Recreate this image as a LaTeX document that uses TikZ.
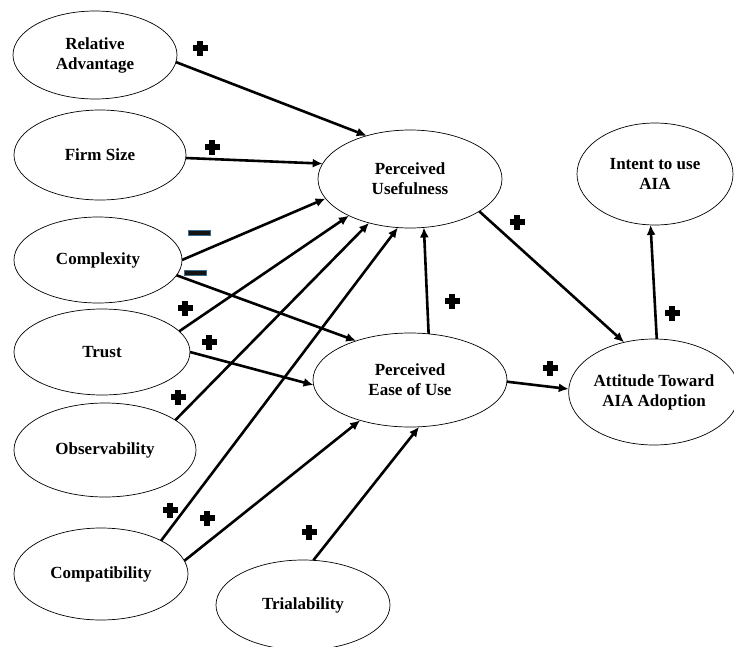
\documentclass[tikz,border=0pt]{standalone}
\usepackage{fontspec}
\setmainfont{Liberation Serif}
\usetikzlibrary{shapes.geometric,arrows.meta}
\definecolor{minusblue}{HTML}{3A6D8C}
\tikzset{
  factor/.style={ellipse, draw, line width=0.7pt, inner sep=0pt, outer sep=0pt, align=center,
    font=\bfseries\fontsize{17}{20}\selectfont},
  link/.style={line width=2.6pt, -{Latex[length=10pt,width=9pt]}},
  plussign/.pic={\fill (-7.5,-2.8) rectangle (7.5,2.8); \fill (-2.8,-7.5) rectangle (2.8,7.5);},
  minussign/.pic={\filldraw[fill=black!92, draw=minusblue, line width=0.9pt] (-11,-2.8) rectangle (11,2.8);}
}
\begin{document}
\begin{tikzpicture}[x=1pt,y=-1pt]
\useasboundingbox (0,0) rectangle (734,646);
\node[factor, minimum width=164pt, minimum height=88pt] (ra) at (95,55) {Relative\\Advantage};
\node[factor, minimum width=172pt, minimum height=90pt] (fs) at (100,155) {Firm Size};
\node[factor, minimum width=168pt, minimum height=86pt] (cx) at (98,260) {Complexity};
\node[factor, minimum width=176pt, minimum height=86pt] (tr) at (102,352) {Trust};
\node[factor, minimum width=182pt, minimum height=94pt] (ob) at (105,450) {Observability};
\node[factor, minimum width=174pt, minimum height=92pt] (co) at (101,574) {Compatibility};
\node[factor, minimum width=174pt, minimum height=90pt] (ti) at (303,605) {Trialability};
\node[factor, minimum width=184pt, minimum height=98pt] (pu) at (410,179) {Perceived\\Usefulness};
\node[factor, minimum width=194pt, minimum height=94pt] (pe) at (410,380) {Perceived\\Ease of Use};
\node[factor, minimum width=156pt, minimum height=102pt] (in) at (655,174) {Intent to use\\AIA};
\node[factor, minimum width=158pt, minimum height=106pt] (at) at (654,392) {Attitude Toward\\AIA Adoption};

\draw[link] (ra.-5) -- (pu.135.6);
\draw[link] (fs.-2) -- (pu.170.6);
\draw[link] (cx.0) -- (pu.193.9);
\draw[link] (cx.-11) -- (pe.144);
\draw[link] (tr.15.4) -- (pu.211.6);
\draw[link] (tr.0) -- (pe.183);
\draw[link] (ob.23.7) -- (pu.227.7);
\draw[link] (co.29.1) -- (pu.256.2);
\draw[link] (co.9.1) -- (pe.219.6);
\draw[link] (ti.77.5) -- (pe.281.5);
\draw[link] (pe.68.2) -- (pu.286.4);
\draw[link] (pu.-25.3) -- (at.121.3);
\draw[link] (pe.-1.7) -- (at.178.6);
\draw[link] (at.87.8) -- (in.265.6);

\pic at (200,48) {plussign};
\pic at (212,147) {plussign};
\pic at (185,308) {plussign};
\pic at (209,342) {plussign};
\pic at (178,397) {plussign};
\pic at (170,510) {plussign};
\pic at (207,518) {plussign};
\pic at (309,532) {plussign};
\pic at (452,301) {plussign};
\pic at (517,222) {plussign};
\pic at (550,368) {plussign};
\pic at (672,313) {plussign};
\pic at (199,233) {minussign};
\pic at (195,273) {minussign};
\end{tikzpicture}
\end{document}
